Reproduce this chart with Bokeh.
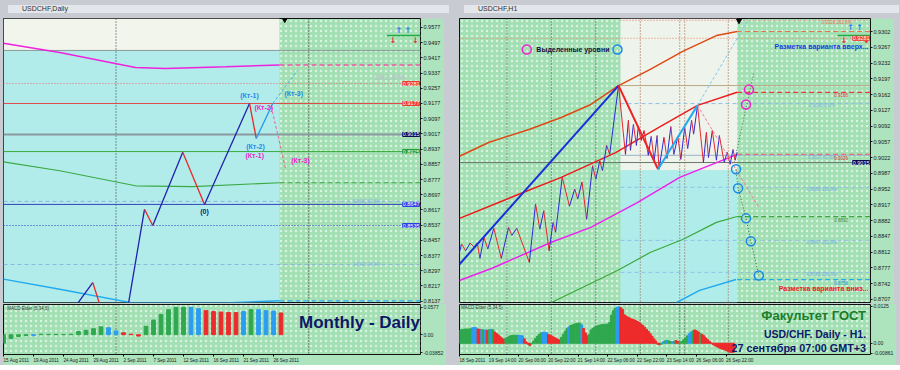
from bokeh.plotting import figure
from bokeh.layouts import row, column
from bokeh.models import Range1d, FixedTicker, BoxAnnotation, Span, Label, Div, Spacer
from bokeh.embed import file_html
from bokeh.resources import INLINE

FONT = "Liberation Sans"

# ======================= LEFT PANEL : USDCHF, Daily =======================
d_tick_idx = [0, 4, 8, 12, 16, 20, 24, 28, 32, 36]
d_tick_lbl = ["15 Aug 2011", "19 Aug 2011", "24 Aug 2011", "29 Aug 2011", "2 Sep 2011",
              "7 Sep 2011", "12 Sep 2011", "16 Sep 2011", "21 Sep 2011", "26 Sep 2011"]
d_price_ticks = [0.8137, 0.8217, 0.8297, 0.8377, 0.8457, 0.8537, 0.8617, 0.8697, 0.8777,
                 0.8857, 0.8937, 0.9017, 0.9097, 0.9177, 0.9257, 0.9337, 0.9417, 0.9497, 0.9577]
d_seps = [15, 40.7]
d_future = 36.8
d_cyan_top = 0.9456

# zigzag (bar index, price)
d_zz_x = [9.6, 11.9, 13.4, 14.8, 16.3, 18.8, 19.9, 23.9, 26.8, 32.8, 33.7]
d_zz_y = [0.8110, 0.8235, 0.8050, 0.8090, 0.8040, 0.8620, 0.8535, 0.8920, 0.8646, 0.9177, 0.8993]
d_kt_x = [33.7, 35.9]
d_kt_y = [0.8993, 0.9177]
d_up_x = [35.9, 39.2]
d_up_y = [0.9177, 0.9351]
d_dn_x = [35.7, 37.6]
d_dn_y = [0.9161, 0.8835]

# moving envelopes
d_mag_x = [0, 7.5, 17.6, 21.6, 29.6, 36.8]
d_mag_y = [0.9494, 0.9445, 0.9366, 0.9361, 0.9370, 0.9380]
d_grn_x = [0, 7.5, 17.6, 25.2, 36.8]
d_grn_y = [0.8870, 0.8823, 0.8744, 0.8740, 0.8760]
d_cyn_x = [0, 7.5, 17.2, 29.6, 36.8]
d_cyn_y = [0.8253, 0.8200, 0.8128, 0.8128, 0.8139]

# horizontal levels
d_lvl_red_dot = 0.9282
d_lvl_red = 0.9177
d_lvl_price = 0.9014
d_lvl_green = 0.8924
d_lvl_lb1 = 0.8662
d_lvl_blue = 0.8646
d_lvl_blue_dot = 0.8535
d_lvl_lb2 = 0.8330

d_tags = [(0.9282, "0.9281", "#f03a2e"), (0.9177, "0.9177", "#f03a2e"),
          (0.9014, "0.9015", "#0a0a50"), (0.8924, "0.8925", "#1f9a2c"),
          (0.8646, "0.8647", "#2a3ee8"), (0.8535, "0.8535", "#2a3ee8")]

# MACD Elder (5,34,5) daily
d_macd = [-0.018, -0.008, -0.004, -0.002, -0.002, 0.001, 0.0007, 0.0007, 0.0003, 0.001,
          0.0067, 0.0093, 0.0127, 0.0167, 0.0147, 0.008, 0.004, 0.001, -0.003, 0.018,
          0.031, 0.043, 0.053, 0.058, 0.058, 0.058, 0.055, 0.051, 0.049, 0.048,
          0.047, 0.047, 0.049, 0.053, 0.053, 0.051, 0.050, 0.046]
d_macd_col = "ggggbgggggggggbbrrrggggggbbrrrrrbgbbbr"
d_macd_ticks = [0.0577, 0.0, -0.0385]
d_macd_lbls = ["0.0577", "0.00", "-0.03852"]

# ======================= RIGHT PANEL : USDCHF, H1 =======================
h_tick_idx = [0, 16, 32, 48, 64, 80, 96, 112, 128, 144]
h_tick_lbl = ["18 Sep 2011", "19 Sep 14:00", "20 Sep 06:00", "20 Sep 22:00", "21 Sep 14:00",
              "22 Sep 06:00", "22 Sep 22:00", "23 Sep 14:00", "26 Sep 06:00", "26 Sep 22:00"]
h_price_ticks = [0.8707, 0.8742, 0.8777, 0.8812, 0.8847, 0.8882, 0.8917, 0.8952, 0.8987,
                 0.9022, 0.9057, 0.9092, 0.9127, 0.9162, 0.9197, 0.9232, 0.9267, 0.9302]
h_seps_grey = [25.6, 49.6, 73.6]
h_seps_brown = [97.6, 118.9, 121.6, 145.1]
h_box_l = 86.9
h_box_r = 149.9
h_box_split = 0.8994

h_zz_x = [-0.2, 1.07, 3.36, 5.71, 7.84, 9.6, 11.04, 13.17, 15.31, 18.51,
          22.56, 26.51, 28.27, 30.93, 37.71, 41.07, 43.36, 45.49, 48.37, 50.51,
          51.89, 55.47, 59.36, 62.24, 63.84, 66.13, 68.64, 71.84, 73.6, 75.73,
          77.17, 79.47, 81.07, 85.87, 89.6, 91.2, 92.3, 93.9, 95.5, 96.5,
          98.1, 99.7, 101.9, 103.5, 105.1, 106.7, 107.7, 110.4, 112.0, 114.1,
          115.7, 117.9, 119.5, 121.6, 123.2, 125.3, 126.4, 128.5, 131.7, 133.3,
          134.4, 136.5, 138.7, 140.3, 142.9, 144.5, 146.1, 147.7, 148.8, 149.9]
h_zz_y = [0.8808, 0.8830, 0.8815, 0.8832, 0.8823, 0.8832, 0.8798, 0.8845, 0.8819, 0.8865,
          0.8798, 0.8867, 0.8849, 0.8865, 0.8789, 0.8919, 0.8863, 0.8904, 0.8815, 0.8878,
          0.8856, 0.8978, 0.8914, 0.8952, 0.8930, 0.8968, 0.8885, 0.9004, 0.8974, 0.9015,
          0.8993, 0.9049, 0.9029, 0.9182, 0.9029, 0.9105, 0.9038, 0.9096, 0.9049, 0.9089,
          0.9060, 0.9082, 0.9027, 0.9069, 0.9016, 0.9071, 0.8996, 0.9067, 0.9020, 0.9091,
          0.9029, 0.9069, 0.9018, 0.9089, 0.9042, 0.9105, 0.9074, 0.9138, 0.9011, 0.9078,
          0.9022, 0.9082, 0.9016, 0.9071, 0.9011, 0.9034, 0.9007, 0.9040, 0.9016, 0.9034]
h_big_x = [0, 85.87, 107.2, 128.5]
h_big_y = [0.8785, 0.9182, 0.8996, 0.9138]
h_up_x = [128.5, 156.3]
h_up_y = [0.9138, 0.9331]
h_dn_x = [128.5, 161.6]
h_dn_y = [0.9138, 0.8911]
h_gr_x = [148.3, 158.9]
h_gr_y = [0.9011, 0.9211]
h_bc_x = [149.3, 150.4, 154.7, 157.3, 161.6]
h_bc_y = [0.8996, 0.8954, 0.8887, 0.8836, 0.8760]
h_mc_x = [156.3, 154.7]
h_mc_y = [0.9173, 0.9140]

h_ch_up_x = [0, 16, 37.9, 54.9, 70.9, 85.9, 103, 120.5, 138.7, 149.9]
h_ch_up_y = [0.9025, 0.9056, 0.9085, 0.9111, 0.9140, 0.9182, 0.9218, 0.9258, 0.9293, 0.9302]
h_ch_mid_x = [0, 34.7, 54.9, 84.3, 106.7, 128.5, 149.9]
h_ch_mid_y = [0.8887, 0.8945, 0.8978, 0.9033, 0.9087, 0.9138, 0.9167]
h_mag_x = [0, 17.6, 49.6, 70.9, 96, 118.9, 149.9]
h_mag_y = [0.8749, 0.8776, 0.8834, 0.8867, 0.8922, 0.8978, 0.9029]
h_grn_x = [49.6, 85.3, 102.9, 120.5, 138.7, 149.9]
h_grn_y = [0.8700, 0.8771, 0.8811, 0.8840, 0.8878, 0.8891]
h_cyn_x = [117.3, 129.6, 149.3]
h_cyn_y = [0.8700, 0.8727, 0.8751]

h_fib = [(0.9182, "#b8a888", "solid", ""), (0.9142, "#8ec0e8", "4 3", "0.9140  0.0%"),
         (0.9027, "#9ab4c8", "solid", "0.9027  61.8%"), (0.8956, "#8ec0e8", "4 3", "0.8956  100.0%"),
         (0.8838, "#8ec0e8", "4 3", "0.8847  161.8%"), (0.8767, "#8ec0e8", "4 3", "0.8785  200.0%")]
h_fib_top = 0.9327
h_lvl_orange = 0.9287
h_lvl_price = 0.9011
h_tags = [(0.9287, "0.9281", "#f03a2e"), (0.9011, "0.9015", "#0a0a50")]

h_macd = [0.0044, 0.0046, 0.0047, 0.0048, 0.0048, 0.0048, 0.0049, 0.0052, 0.0053, 0.0052,
          0.0048, 0.0047, 0.0046, 0.0045, 0.0045, 0.0044, 0.0046, 0.0047, 0.0046, 0.0038,
          0.0033, 0.0028, 0.0022, 0.0017, 0.0013, 0.0017, 0.0021, 0.0024, 0.0026, 0.0027,
          0.0027, 0.0027, 0.0027, 0.0026, 0.0025, 0.0015, 0.0005, -0.0003, -0.0008, -0.0002,
          0.0008, 0.0016, 0.0024, 0.0030, 0.0035, 0.0037, 0.0037, 0.0036, 0.0030, 0.0027,
          0.0024, 0.0020, 0.0017, 0.0014, 0.0011, 0.0020, 0.0030, 0.0040, 0.0050, 0.0055,
          0.0060, 0.0062, 0.0065, 0.0067, 0.0068, 0.0068, 0.0062, 0.0050, 0.0035, 0.0025,
          0.0030, 0.0045, 0.0050, 0.0055, 0.0058, 0.0060, 0.0062, 0.0063, 0.0064, 0.0064,
          0.0065, 0.0070, 0.0095, 0.0110, 0.0118, 0.0122, 0.0123, 0.0121, 0.0115, 0.0096,
          0.0092, 0.0088, 0.0085, 0.0082, 0.0080, 0.0077, 0.0074, 0.0070, 0.0065, 0.0060,
          0.0054, 0.0047, 0.0040, 0.0032, 0.0024, 0.0015, 0.0008, -0.0003, -0.0005, -0.0003,
          0.0005, 0.0008, 0.0010, 0.0008, 0.0006, 0.0005, 0.0007, 0.0009, 0.0006, 0.0004,
          0.0006, 0.0012, 0.0018, 0.0025, 0.0032, 0.0038, 0.0042, 0.0045, 0.0042, 0.0038,
          0.0033, 0.0030, 0.0025, 0.0018, 0.0012, 0.0006, 0.0001, -0.0005, -0.0008, -0.0012,
          -0.0015, -0.0018, -0.0020, -0.0022, -0.0025, -0.0028, -0.0030, -0.0031, -0.0030, -0.0028]
h_macd_col = ("gggggggbbbrrbgbrgbgrrrrrrgggggggbbbrrrrggggggbbbrrrrrrrggggbggggggbrrrg"
              "ggggggggggggggbbrrrrrrrrrrrrrrrrrrrrrrgbgbggbgrrgggggbbgrrrgrrrrr"
              "rrrrrrrrrrrrr")
h_macd_ticks = [0.0125, 0.0, -0.0034]
h_macd_lbls = ["0.0125", "0.00", "-0.00861"]

# ============================ helpers ============================
C = {"g": "#2fa84f", "b": "#2b9cf2", "r": "#ee2b2b"}
GREEN_BG = "#a2dfb3"
BORDER_BG = "#ade3bd"
FH_MAIN = 284
FH_MACD = 50
# approximate glyph widths (em) of Liberation Sans, used to left-align the time labels
W_EM = {" ": 0.278, ":": 0.278, "A": 0.667, "S": 0.667, "u": 0.556, "g": 0.556,
        "e": 0.556, "p": 0.556}


def left_aligned(tick, lbl):
    # a centred label with leading no-break spaces of equal width starts at its tick;
    # the first label is already pushed inside the axis by Bokeh, so it needs none
    if tick == 0:
        return lbl
    w = sum(W_EM.get(ch, 0.556) for ch in lbl)
    return "\u00a0" * int(round(w / 0.278)) + lbl


def base_fig(xr, yr, fw, fh, mbb, mbt, xaxis):
    p = figure(x_range=xr, y_range=yr, frame_width=fw, frame_height=fh,
               output_backend="svg", toolbar_location=None,
               y_axis_location="right", x_axis_location=("below" if xaxis else None),
               min_border_left=0, min_border_right=24, min_border_top=mbt,
               min_border_bottom=mbb)
    p.background_fill_color = GREEN_BG
    p.border_fill_color = BORDER_BG
    p.outline_line_color = "#101010"
    p.outline_line_width = 1
    p.xgrid.visible = False
    p.ygrid.visible = False
    ax = p.yaxis[0]
    ax.axis_line_color = None
    ax.major_tick_out = 2
    ax.major_tick_in = 0
    ax.minor_tick_line_color = None
    ax.major_label_standoff = 1
    ax.major_label_text_font = FONT
    ax.major_label_text_color = "#202020"
    ax.major_tick_line_color = "#202020"
    return p


def dots(p, **kw):
    p.add_layout(BoxAnnotation(level="underlay", fill_alpha=0, line_alpha=0,
                               hatch_pattern="dot", hatch_color="white", hatch_alpha=0.6,
                               hatch_scale=5, hatch_weight=1, **kw))


def box(p, color, **kw):
    p.add_layout(BoxAnnotation(level="underlay", fill_color=color, fill_alpha=1,
                               line_alpha=0, **kw))


def hspan(p, y, color, dash="solid", width=1):
    p.add_layout(Span(location=y, dimension="width", line_color=color, line_dash=dash,
                      line_width=width, level="underlay"))


def vspan(p, x, color):
    p.add_layout(Span(location=x, dimension="height", line_color=color, line_dash="1 2",
                      line_width=1, level="underlay"))


def txt(p, x, y, s, color, size, bold=True, align="left", base="middle", font=FONT):
    p.add_layout(Label(x=x, y=y, text=s, text_color=color, text_font_size=size,
                       text_font_style=("bold" if bold else "normal"), text_align=align,
                       text_baseline=base, text_font=font))


def tag(p, xr_end, y, s, color):
    # price tag at the right edge of the price area
    p.add_layout(Label(x=xr_end, y=y, x_offset=-1, text=s, text_color="white",
                       text_font_size="5.5px", text_baseline="middle", text_align="right",
                       text_font=FONT, background_fill_color=color, border_line_color=color))


def zigzag(p, xs, ys, up, dn, w):
    cols = [up if ys[i + 1] > ys[i] else dn for i in range(len(xs) - 1)]
    p.segment(x0=xs[:-1], y0=ys[:-1], x1=xs[1:], y1=ys[1:], line_color=cols, line_width=w)


def title_div(text, w):
    return Div(text='<span style="margin-left:14px">' + text + '</span>', width=w, height=8,
               styles={"background-color": "#e3e6ea", "font-size": "7px", "line-height": "8px",
                       "color": "#303030", "font-family": "Liberation Sans, Arial",
                       "overflow": "hidden", "white-space": "nowrap"})


# ============================ LEFT build ============================
LFW = 417
dxr = Range1d(0, 55.6)
dyr = Range1d(0.8130, 0.9624)
pl = base_fig(dxr, dyr, LFW, FH_MAIN, 1, 0, False)
pl.yaxis.ticker = FixedTicker(ticks=d_price_ticks)
pl.yaxis.major_label_overrides = {t: f"{t:.4f}" for t in d_price_ticks}
pl.yaxis.major_label_text_font_size = "5.5px"

dots(pl, left=d_future)
box(pl, "#b2ecea", right=d_future, top=d_cyan_top)
box(pl, "#f2f5ec", right=d_future, bottom=d_cyan_top)
for s in d_seps:
    vspan(pl, s, "#303030")
hspan(pl, d_cyan_top, "#8a9a9a")
hspan(pl, d_lvl_red_dot, "#f06a6a", "1 2")
hspan(pl, d_lvl_red, "#e04a4a")
hspan(pl, d_lvl_price, "#8a98a0", "solid", 2)
hspan(pl, d_lvl_green, "#3aaa3a")
hspan(pl, d_lvl_lb1, "#8ab4e0", "4 3")
hspan(pl, d_lvl_blue, "#3344bb")
hspan(pl, d_lvl_blue_dot, "#2a3ad0", "1 2")
hspan(pl, d_lvl_lb2, "#8ab8e0", "4 3")

pl.line(d_mag_x, d_mag_y, line_color="#ee22dd", line_width=1.5)
pl.line([d_future, dxr.end], [d_mag_y[-1]] * 2, line_color="#f05aa8", line_width=1.5, line_dash="5 3")
pl.line(d_grn_x, d_grn_y, line_color="#3aaa44", line_width=1.2)
pl.line([d_future, dxr.end], [d_grn_y[-1]] * 2, line_color="#3aaa44", line_width=1.2, line_dash="5 3")
pl.line(d_cyn_x, d_cyn_y, line_color="#22aaee", line_width=1.5)
pl.line([d_future, dxr.end], [d_cyn_y[-1]] * 2, line_color="#22aaee", line_width=1.2, line_dash="5 3")

zigzag(pl, d_zz_x, d_zz_y, "#2020b0", "#e8282a", 1.3)
pl.line(d_kt_x, d_kt_y, line_color="#2299ee", line_width=1.3)
pl.line(d_up_x, d_up_y, line_color="#44b4f0", line_width=1, line_dash="3 2")
pl.line(d_dn_x, d_dn_y, line_color="#f0609a", line_width=1, line_dash="3 2")

txt(pl, 32.8, 0.9219, "(Кт-1)", "#2288ee", "7px", align="center")
txt(pl, 34.7, 0.9156, "(Кт-2)", "#ee22cc", "7px", align="center")
txt(pl, 33.6, 0.8951, "(Кт-2)", "#2288ee", "7px", align="center")
txt(pl, 33.5, 0.8903, "(Кт-1)", "#ee22cc", "7px", align="center")
txt(pl, 38.7, 0.9229, "(Кт-3)", "#2288ee", "7px", align="center")
txt(pl, 39.6, 0.8877, "(Кт-3)", "#ee22cc", "7px", align="center")
txt(pl, 26.8, 0.8609, "(0)", "#101a80", "7px", align="center")
txt(pl, 51.5, 0.9314, "161.8%", "#b4c8c4", "9px", align="center")
txt(pl, 48.5, 0.8662, "0.8662  61.8%", "#8ab4e0", "4.5px", bold=False, align="center")
txt(pl, 48.5, 0.8330, "0.8330  78.6%", "#8ab8e0", "4.5px", bold=False, align="center")

# arrows
pl.line([51.1, dxr.end], [0.9535, 0.9535], line_color="#22aa44", line_width=1.5)
for ax_ in (52.7, 53.9):
    txt(pl, ax_, 0.9561, "↑", "#2a7af0", "8px", align="center", font="DejaVu Sans")
for ax_ in (51.9, 54.9):
    txt(pl, ax_, 0.9508, "↓", "#e82a2a", "8px", align="center", font="DejaVu Sans")
pl.scatter([37.5], [0.9618], marker="inverted_triangle", size=5, color="black")

for y, s, c in d_tags:
    tag(pl, dxr.end, y, s, c)

# left MACD
ml = base_fig(dxr, Range1d(-0.042, 0.064), LFW, FH_MACD, 9, 1, True)
ml.yaxis.ticker = FixedTicker(ticks=d_macd_ticks)
ml.yaxis.major_label_overrides = dict(zip(d_macd_ticks, d_macd_lbls))
ml.yaxis.major_label_text_font_size = "5px"
dots(ml)
for s in d_seps:
    vspan(ml, s, "#303030")
ml.vbar(x=list(range(len(d_macd))), top=d_macd, bottom=0, width=0.5,
        color=[C[c] for c in d_macd_col])
txt(ml, 0.5, 0.060, "MACD Elder (5,34,5)", "#404040", "4.5px", bold=False, base="top")
txt(ml, 39.4, 0.025, "Monthly - Daily", "#0b1866", "17px")

# ============================ RIGHT build ============================
RFW = 411
hxr = Range1d(0, 221.9)
hyr = Range1d(0.8700, 0.9331)
pr = base_fig(hxr, hyr, RFW, FH_MAIN, 1, 0, False)
pr.yaxis.ticker = FixedTicker(ticks=h_price_ticks)
pr.yaxis.major_label_overrides = {t: f"{t:.4f}" for t in h_price_ticks}
pr.yaxis.major_label_text_font_size = "5.5px"

dots(pr)
box(pr, "#eef3ec", left=h_box_l, right=h_box_r, bottom=h_box_split)
box(pr, "#b0ecea", left=h_box_l, right=h_box_r, top=h_box_split)
for s in h_seps_grey:
    vspan(pr, s, "#405040")
for s in h_seps_brown:
    vspan(pr, s, "#a05a3a")
hspan(pr, h_lvl_orange, "#f08050", "1 2")
hspan(pr, h_lvl_price, "#6a7a6a")
pr.segment(x0=[h_box_l], x1=[hxr.end], y0=[h_fib_top], y1=[h_fib_top], line_color="#f07060",
           line_dash="1 2")
txt(pr, 204, h_fib_top - 0.0004, "0.9326  261.8%", "#f07060", "4.5px", bold=False, align="center")
for y, c, dsh, lab in h_fib:
    pr.segment(x0=[h_box_l], x1=[hxr.end], y0=[y], y1=[y], line_color=c, line_dash=dsh)
    if lab:
        txt(pr, 196, y - 0.0004, lab, "#7ab0e0", "4.5px", bold=False, align="center")

pr.line(h_ch_up_x, h_ch_up_y, line_color="#dd4a14", line_width=1.5)
pr.line([h_box_r, hxr.end], [h_ch_up_y[-1]] * 2, line_color="#ee6a44", line_width=1, line_dash="5 3")
pr.line(h_ch_mid_x, h_ch_mid_y, line_color="#ee1c1c", line_width=1.5)
pr.line([h_box_r, hxr.end], [h_ch_mid_y[-1]] * 2, line_color="#ee3a3a", line_width=1.2, line_dash="5 3")
pr.line(h_mag_x, h_mag_y, line_color="#ee22ee", line_width=1.5)
pr.line([h_box_r, hxr.end], [h_mag_y[-1]] * 2, line_color="#f06a7a", line_width=1.2, line_dash="5 3")
pr.line(h_grn_x, h_grn_y, line_color="#3aaa3a", line_width=1.2)
pr.line([h_box_r, hxr.end], [h_grn_y[-1]] * 2, line_color="#3aaa3a", line_width=1.2, line_dash="5 3")
pr.line(h_cyn_x, h_cyn_y, line_color="#22aaee", line_width=1.5)
pr.line([h_box_r, hxr.end], [h_cyn_y[-1]] * 2, line_color="#22aaee", line_width=1.2, line_dash="5 3")
txt(pr, 206, h_ch_mid_y[-1] - 0.0007, "0.9166", "#e03030", "4.5px", bold=False, align="center")
txt(pr, 206, h_mag_y[-1] - 0.0007, "0.9026", "#e03030", "4.5px", bold=False, align="center")
txt(pr, 206, h_grn_y[-1] - 0.0007, "0.8892", "#3a8a3a", "4.5px", bold=False, align="center")
txt(pr, 206, h_cyn_y[-1] - 0.0007, "0.8756", "#2a8ad0", "4.5px", bold=False, align="center")

zigzag(pr, h_zz_x, h_zz_y, "#2a2ad8", "#e8262a", 1)
big_cols = ["#1830d8", "#ee2222", "#22aaee"]
pr.segment(x0=h_big_x[:-1], y0=h_big_y[:-1], x1=h_big_x[1:], y1=h_big_y[1:],
           line_color=big_cols, line_width=2)
pr.line(h_up_x, h_up_y, line_color="#7ccaf0", line_width=1, line_dash="3 2")
pr.line(h_dn_x, h_dn_y, line_color="#f07a9a", line_width=1, line_dash="3 2")
pr.line(h_gr_x, h_gr_y, line_color="#4a7a4a", line_width=1, line_dash="1 2")
pr.line(h_bc_x, h_bc_y, line_color="#3a6a3a", line_width=1, line_dash="1 2")
pr.scatter(h_bc_x, h_bc_y, marker="circle", size=9, fill_alpha=0, line_color="#1a8ae8",
           line_width=1.5)
pr.scatter(h_mc_x, h_mc_y, marker="circle", size=9, fill_alpha=0, line_color="#ee22cc",
           line_width=1.5)
pr.scatter([36.3], [0.9262], marker="circle", size=9, fill_alpha=0, line_color="#ee22cc",
           line_width=1.5)
pr.scatter([85.3], [0.9262], marker="circle", size=9, fill_alpha=0, line_color="#1a8ae8",
           line_width=1.5)
txt(pr, 41.5, 0.9262, "Выделенные уровни", "#101040", "7px")
txt(pr, 170.1, 0.9269, "Разметка варианта вверх...", "#1a3ae0", "7px")
txt(pr, 172.3, 0.8731, "Разметка варианта вниз...", "#ee2222", "7px")

pr.line([204, hxr.end], [0.9293, 0.9293], line_color="#22aa44", line_width=1.5)
for ax_ in (211.2, 216.0):
    txt(pr, ax_, 0.9311, "↑", "#2a7af0", "8px", align="center", font="DejaVu Sans")
for ax_ in (207.5, 219.7):
    txt(pr, ax_, 0.9282, "↓", "#e82a2a", "8px", align="center", font="DejaVu Sans")
pr.scatter([150.9], [0.9326], marker="inverted_triangle", size=5, color="black")
for y, s, c in h_tags:
    tag(pr, hxr.end, y, s, c)

# right MACD
mr = base_fig(hxr, Range1d(-0.0038, 0.0131), RFW, FH_MACD, 9, 1, True)
mr.yaxis.ticker = FixedTicker(ticks=h_macd_ticks)
mr.yaxis.major_label_overrides = dict(zip(h_macd_ticks, h_macd_lbls))
mr.yaxis.major_label_text_font_size = "5px"
dots(mr)
for s in h_seps_grey:
    vspan(mr, s, "#405040")
for s in h_seps_brown:
    vspan(mr, s, "#405040")
mr.vbar(x=list(range(len(h_macd))), top=h_macd, bottom=0, width=1.0,
        color=[C[c] for c in h_macd_col])
txt(mr, 0.8, 0.0128, "MACD Elder (5,34,5)", "#404040", "4.5px", bold=False, base="top")
txt(mr, 219.5, 0.0093, "Факультет ГОСТ", "#1b7d2a", "13px", align="right")
txt(mr, 219.5, 0.0032, "USD/CHF. Daily - H1.", "#0b1866", "10.5px", align="right")
txt(mr, 219.5, -0.0016, "27 сентября 07:00 GMT+3", "#0b1866", "10.8px", align="right")

for m, ticks, lbls in ((ml, d_tick_idx, d_tick_lbl), (mr, h_tick_idx, h_tick_lbl)):
    xa = m.xaxis[0]
    xa.ticker = FixedTicker(ticks=ticks)
    xa.major_label_overrides = {t: left_aligned(t, l) for t, l in zip(ticks, lbls)}
    xa.major_label_text_font_size = "4.6px"
    xa.major_label_text_font = FONT
    xa.major_label_standoff = 1
    xa.major_tick_out = 2
    xa.major_tick_in = 0
    xa.minor_tick_line_color = None
    xa.axis_line_color = None
    xa.major_label_text_color = "#202020"

left_col = column(title_div("USDCHF,Daily", LFW + 24), pl, ml, spacing=0)
right_col = column(title_div("USDCHF,H1", RFW + 24), pr, mr, spacing=0)
page = row(Spacer(width=3, height=350), left_col, Spacer(width=5, height=350), right_col,
           spacing=0, styles={"background-color": "#c8ccd2"})

open("out.html", "w").write(file_html(page, INLINE))
